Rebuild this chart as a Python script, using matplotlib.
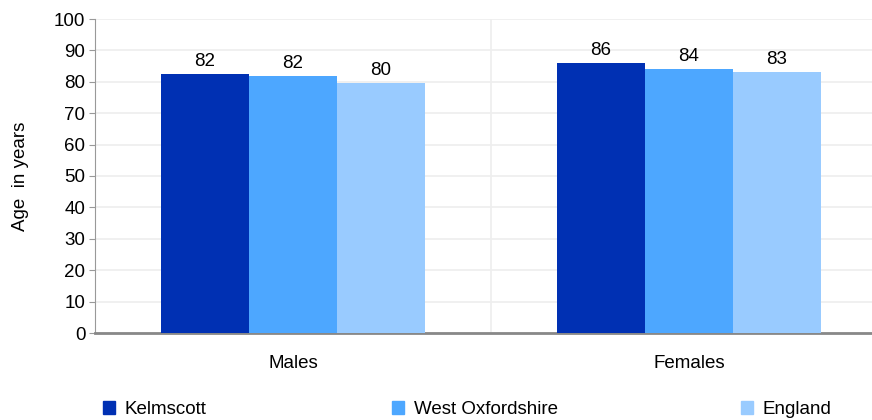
import numpy as np
import matplotlib
matplotlib.use('Agg')
import matplotlib.pyplot as plt
from matplotlib.patches import Patch

plt.rcParams['font.family'] = ['Liberation Sans', 'DejaVu Sans']

categories = ['Males', 'Females']
series = ['Kelmscott', 'West Oxfordshire', 'England']
values = {
    'Kelmscott': [82.4, 86.0],
    'West Oxfordshire': [81.8, 84.1],
    'England': [79.6, 83.1],
}
colors = ['#0030B3', '#4DA7FF', '#99CBFF']

fig = plt.figure(figsize=(8.72, 4.2), dpi=100)
fig.patch.set_facecolor('white')
# axes runs a bit past the right edge, like the original (cropped)
ax = fig.add_axes([95/872, 1 - 333/420, (887 - 95)/872, (333 - 19)/420])

x = np.arange(len(categories))
w = 0.222
for i, s in enumerate(series):
    bars = ax.bar(x + (i - 1) * w, values[s], width=w, color=colors[i], zorder=3)
    ax.bar_label(bars, fmt='%.0f', padding=3, fontsize=13.5)

ax.set_xlim(-0.5, 1.5)
ax.set_ylim(0, 100)
ax.set_yticks(np.arange(0, 101, 10))
ax.set_xticks(x)
ax.set_xticklabels(categories, fontsize=13.5)
ax.tick_params(axis='x', length=0, pad=16)
ax.tick_params(axis='y', labelsize=13.5, length=4, color='#999999', pad=3)
ax.grid(axis='y', color='#eeeeee', lw=1.2, zorder=0)
ax.axvline(0.5, color='#eeeeee', lw=1.2, zorder=0)
for sp in ['top', 'right']:
    ax.spines[sp].set_visible(False)
ax.spines['left'].set_color('#999999')
ax.spines['bottom'].set_color('#888888')
ax.spines['bottom'].set_linewidth(2)
ax.set_ylabel('Age  in years', fontsize=13.5, labelpad=18)

# legend entries spread out along the bottom
leg_x = [103/872, 392/872, 741/872]
for i, s in enumerate(series):
    fig.legend(handles=[Patch(color=colors[i], label=s)], loc='lower left',
               bbox_to_anchor=(leg_x[i], 2/420), frameon=False,
               fontsize=13.5, handlelength=0.65, handleheight=0.65,
               handletextpad=0.5, borderaxespad=0, borderpad=0)

fig.savefig('out.png', dpi=100)
